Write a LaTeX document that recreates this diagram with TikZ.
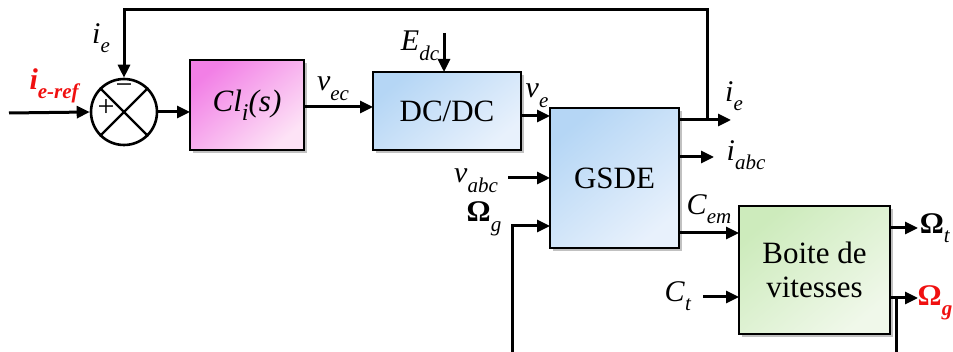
\documentclass[tikz,border=0pt]{standalone}
\usepackage{fontspec}
\setmainfont{Liberation Serif}
\usetikzlibrary{arrows.meta,shadows,calc}
\newcommand{\sig}[2]{\textit{#1}\raisebox{-0.32em}{\fontsize{21}{22}\selectfont\textit{#2}}}
\newcommand{\sigOm}[2]{\textbf{Ω}\raisebox{-0.32em}{\fontsize{21}{22}\selectfont\textit{#2}}}
\definecolor{pinkA}{HTML}{F27FE6}
\definecolor{pinkB}{HTML}{FDE3F6}
\definecolor{blueA}{HTML}{B5D6F5}
\definecolor{blueB}{HTML}{E8F1FC}
\definecolor{greenA}{HTML}{CDEBBC}
\definecolor{greenB}{HTML}{F0F8EA}
\definecolor{sigred}{HTML}{F01010}
\tikzset{
  blk/.style={draw=black, line width=2.6pt, inner sep=0pt, outer sep=0pt, anchor=north west,
    font=\fontsize{31}{34}\selectfont, align=center,
    drop shadow={shadow xshift=3pt, shadow yshift=-3pt, opacity=0.35, fill=black!70}},
  wire/.style={line width=3pt},
  arr/.style={line width=3pt, -{Triangle[length=13pt,width=12pt]}},
  lab/.style={font=\fontsize{30}{32}\selectfont, inner sep=0pt},
}
\begin{document}
\begin{tikzpicture}[x=1pt,y=-1pt]
\useasboundingbox (0,0) rectangle (953,352);
% blocks
\node[circle, draw=black, line width=2.6pt, minimum size=66pt, inner sep=0pt, fill=white] (sum) at (124,112) {};
\draw[line width=2.4pt] (sum.north west) -- (sum.south east) (sum.north east) -- (sum.south west);
\node[font=\fontsize{30}{30}\selectfont, inner sep=0pt] (plus) at (106,108) {+};
\node[font=\fontsize{30}{30}\selectfont, inner sep=0pt] (minus) at (124,89) {−};

\node[blk, minimum width=114pt, minimum height=90pt, top color=pinkA, bottom color=pinkB, shading angle=40] (cl) at (190,60) {\textit{Cl}\raisebox{-0.3em}{\fontsize{24}{24}\selectfont\textit{i}}\textit{(s)}};
\node[blk, minimum width=148pt, minimum height=78pt, top color=blueA, bottom color=blueB, shading angle=40] (dcdc) at (373,72) {DC/DC};
\node[blk, minimum width=129pt, minimum height=140pt, top color=blueA, bottom color=blueB, shading angle=40] (gsde) at (550,108) {GSDE};
\node[blk, minimum width=151pt, minimum height=128pt, top color=greenA, bottom color=greenB, shading angle=40] (boite) at (739,206) {Boite de\\vitesses};

% coordinates
\coordinate (in0) at (9,113);
\coordinate (fbL) at (124,10);
\coordinate (fbR) at (707,10);
\coordinate (ieout) at (731,120);
\coordinate (iabcout) at (714,157);
\coordinate (edc) at (444,33);
\coordinate (vabcin) at (508,178);
\coordinate (omin) at (512,352);
\coordinate (ctin) at (703,297);
\coordinate (omtout) at (918,228);
\coordinate (omgout) at (918,298);
\coordinate (omgdown) at (896,352);

% connectors
\draw[arr] (in0) -- (sum.west);
\draw[arr] (fbR |- ieout) -- (fbR) -- (fbL) -- (sum.north);
\draw[arr] (sum.east) -- (sum.east -| cl.west);
\draw[arr] ($(cl.east)+(0,2)$) -- ($(cl.east -| dcdc.west)+(0,2)$);
\draw[arr] (edc) -- (edc |- dcdc.north);
\draw[arr] (dcdc.east |- 0,116) -- (gsde.west |- 0,116);
\draw[arr] (gsde.east |- ieout) -- (ieout);
\draw[arr] (gsde.east |- iabcout) -- (iabcout);
\draw[arr] (vabcin) -- (gsde.west |- vabcin);
\draw[arr] (omin) -- (omin |- 0,226) -- (gsde.west |- 0,226);
\draw[arr] (gsde.east |- 0,233) -- (boite.west |- 0,233);
\draw[arr] (ctin) -- (boite.west |- ctin);
\draw[arr] (boite.east |- omtout) -- (omtout);
\draw[arr] (boite.east |- omgout) -- (omgout);
\draw[wire] (omgdown |- omgout) -- (omgdown);

% labels
\node[lab] (l_ieref) at (55,86) {\color{sigred}\textbf{\textit{i}}\raisebox{-0.32em}{\fontsize{21}{22}\selectfont\textbf{\textit{e-ref}}}};
\node[lab] (l_ie) at (101,38) {\sig{i}{e}};
\node[lab] (l_vec) at (333,89) {\sig{v}{ec}};
\node[lab] (l_edc) at (420,46) {\sig{E}{dc}};
\node[lab] (l_ve) at (537,96) {\sig{v}{e}};
\node[lab] (l_vabc) at (476,181) {\sig{v}{abc}};
\node[lab] (l_omg) at (484,219) {\sigOm{Ω}{g}};
\node[lab] (l_ieo) at (734,96) {\sig{i}{e}};
\node[lab] (l_iabc) at (746,155) {\sig{i}{abc}};
\node[lab] (l_cem) at (709,209) {\sig{C}{em}};
\node[lab] (l_ct) at (678,296) {\sig{C}{t}};
\node[lab] (l_omt) at (935,228) {\sigOm{Ω}{t}};
\node[lab] (l_omgo) at (935,303) {\color{sigred}\textbf{Ω}\raisebox{-0.32em}{\fontsize{21}{22}\selectfont\textbf{\textit{g}}}};
\end{tikzpicture}
\end{document}
